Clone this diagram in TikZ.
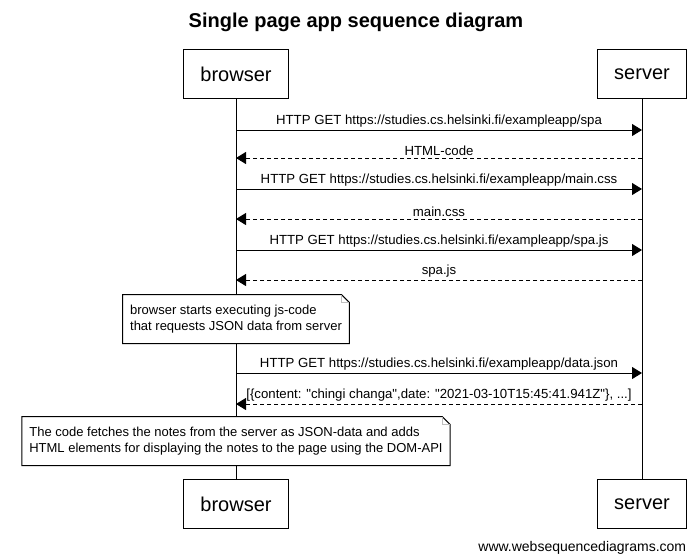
\documentclass[tikz,border=0pt]{standalone}
\usepackage{fontspec}
\setmainfont{Liberation Sans}
\newfontfamily\plainsans{Liberation Sans}
\usetikzlibrary{arrows.meta,positioning,calc}

% note box outline with folded corner
\newcommand\notefold[1]{%
  \draw (#1.south west) -- (#1.north west) -- ($(#1.north east)+(-8,0)$)
        -- ($(#1.north east)+(0,8)$) -- (#1.south east) -- cycle;
  \draw[gray!50,line width=0.6pt] ($(#1.north east)+(-8,0)$) |- ($(#1.north east)+(0,8)$);}

\begin{document}
\begin{tikzpicture}[x=1pt,y=-1pt,line width=1pt,
    actor/.style={draw,fill=white,minimum height=49pt,inner xsep=17pt,
                  font=\fontsize{20}{24}\selectfont},
    note/.style={fill=white,align=left,inner xsep=7pt,minimum height=48pt,
                 font=\fontsize{13}{16}\selectfont},
    req/.style={-{Triangle[length=10pt,width=12pt]}},
    resp/.style={req,dash pattern=on 4pt off 3pt},
    lbl/.style={font=\plainsans\fontsize{13.2}{15}\selectfont,above,inner sep=2pt}]
  \useasboundingbox (0,0) rectangle (700,558);

  \node[font=\fontsize{20}{24}\selectfont\bfseries,anchor=base] (title) at (356,27)
    {Single page app sequence diagram};

  % participants
  \node[actor] (bTop) at (236,74) {browser};
  \node[actor] (sTop) at (642,74) {server};
  \node[actor] (bBot) at (236,504) {browser};
  \node[actor] (sBot) at (642,504) {server};
  \draw (bTop) -- (bBot);
  \draw (sTop) -- (sBot);

  % messages
  \draw[req] (bTop |- 0,130) -- (sTop |- 0,130)
    node[lbl,midway] {HTTP GET https://studies.cs.helsinki.fi/exampleapp/spa};
  \draw[resp] (sTop |- 0,158) -- (bTop |- 0,158)
    node[lbl,midway] {HTML-code};
  \draw[req] (bTop |- 0,189) -- (sTop |- 0,189)
    node[lbl,midway] {HTTP GET https://studies.cs.helsinki.fi/exampleapp/main.css};
  \draw[resp] (sTop |- 0,219) -- (bTop |- 0,219)
    node[lbl,midway] {main.css};
  \draw[req] (bTop |- 0,250) -- (sTop |- 0,250)
    node[lbl,midway] {HTTP GET https://studies.cs.helsinki.fi/exampleapp/spa.js};
  \draw[resp] (sTop |- 0,280) -- (bTop |- 0,280)
    node[lbl,midway] {spa.js};

  \node[note] (n1) at (236,319) {browser starts executing js-code\\that requests JSON data from server};
  \notefold{n1}

  \draw[req] (bTop |- 0,373) -- (sTop |- 0,373)
    node[lbl,midway] {HTTP GET https://studies.cs.helsinki.fi/exampleapp/data.json};
  \draw[resp] (sTop |- 0,404) -- (bTop |- 0,404)
    node[lbl,midway] {[\{content: "chingi changa",date: "2021-03-10T15:45:41.941Z"\}, ...]};

  \node[note] (n2) at (236,441) {The code fetches the notes from the server as JSON-data and adds\\HTML elements for displaying the notes to the page using the DOM-API};
  \notefold{n2}

  \node[font=\fontsize{14}{16}\selectfont,anchor=base east] (site) at (690,551)
    {www.websequencediagrams.com};
\end{tikzpicture}
\end{document}
